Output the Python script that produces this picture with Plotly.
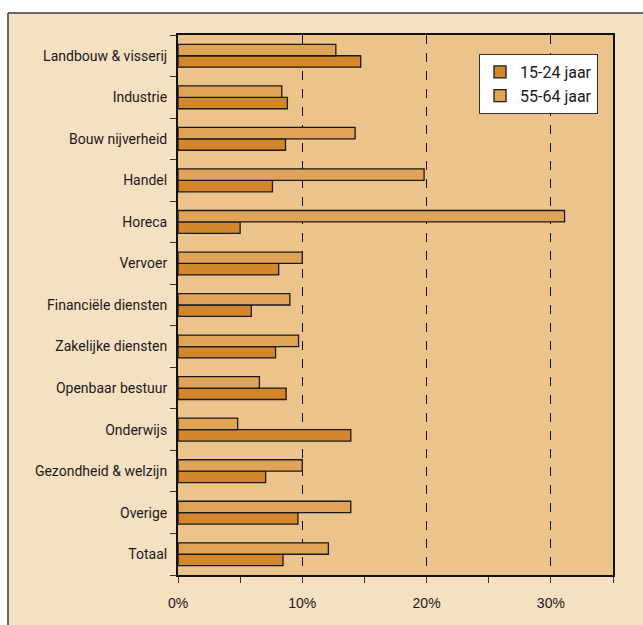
import plotly.graph_objects as go

categories = ["Landbouw & visserij", "Industrie", "Bouw nijverheid", "Handel", "Horeca",
              "Vervoer", "Financiële diensten", "Zakelijke diensten", "Openbaar bestuur",
              "Onderwijs", "Gezondheid & welzijn", "Overige", "Totaal"]
young = [14.7, 8.8, 8.65, 7.6, 5.0, 8.1, 5.9, 7.85, 8.7, 13.9, 7.05, 9.65, 8.45]
old = [12.7, 8.35, 14.25, 19.8, 31.1, 10.0, 9.0, 9.7, 6.55, 4.8, 10.0, 13.9, 12.1]
x_ticks = [0, 10, 20, 30]
x_labels = ["0%", "10%", "20%", "30%"]

# plot bottom-to-top so first category appears on top
cats_r = categories[::-1]
young_r = young[::-1]
old_r = old[::-1]

LABEL_FONT = "Roboto, Liberation Sans, Arial, sans-serif"

fig = go.Figure()
fig.add_trace(go.Bar(y=cats_r, x=young_r, orientation="h", name="15-24 jaar",
                     marker=dict(color="#D4862A", line=dict(color="#1a1a1a", width=1.3))))
fig.add_trace(go.Bar(y=cats_r, x=old_r, orientation="h", name="55-64 jaar",
                     marker=dict(color="#E0A458", line=dict(color="#1a1a1a", width=1.3))))

xl = -0.3908   # left edge of framed panel (paper coords)
yt = 1.0407    # top edge of framed panel
fig.update_layout(
    width=643, height=625,
    margin=dict(l=178, r=30, t=35, b=50),
    paper_bgcolor="#F6E0C2",
    plot_bgcolor="#EBC38B",
    barmode="group", bargap=0.45, bargroupgap=0,
    showlegend=True,
    legend=dict(x=0.692, y=0.965, xanchor="left", yanchor="top",
                bgcolor="white", bordercolor="#333333", borderwidth=1,
                font=dict(family=LABEL_FONT, size=16, color="#1a1a1a"),
                traceorder="normal", itemwidth=30, tracegroupgap=0),
    font=dict(family=LABEL_FONT, color="#1a1a1a"),
    shapes=[
        dict(type="rect", xref="paper", yref="paper", x0=-1, x1=1.5, y0=yt, y1=1.5,
             fillcolor="white", line=dict(width=0), layer="below"),
        dict(type="rect", xref="paper", yref="paper", x0=-1, x1=xl, y0=-1, y1=1.5,
             fillcolor="white", line=dict(width=0), layer="below"),
        dict(type="line", xref="paper", yref="paper", x0=xl, x1=1.5, y0=yt, y1=yt,
             line=dict(color="#3a3a3a", width=1.5)),
        dict(type="line", xref="paper", yref="paper", x0=xl, x1=xl, y0=-1, y1=yt,
             line=dict(color="#3a3a3a", width=1.5)),
    ],
)

fig.update_xaxes(range=[0, 35], tickvals=x_ticks, ticktext=x_labels,
                 ticks="outside", ticklen=6, tickcolor="#333333", ticklabelstandoff=8,
                 minor=dict(dtick=5, tick0=0, ticks="outside", ticklen=6, tickcolor="#333333", showgrid=False),
                 showgrid=True, gridcolor="#111111", griddash="dash", gridwidth=1.3,
                 showline=True, linecolor="#111111", linewidth=1.5, mirror=True,
                 tickfont=dict(family="Liberation Sans, Arial, sans-serif", size=14, color="#1a1a1a"),
                 zeroline=False, fixedrange=True)
fig.update_yaxes(type="category", tickson="boundaries", ticks="outside", ticklen=6,
                 tickcolor="#333333", showline=True, linecolor="#111111", linewidth=2, mirror=True,
                 showgrid=False, ticklabelstandoff=6,
                 tickfont=dict(family=LABEL_FONT, size=14, color="#1a1a1a"),
                 fixedrange=True)

fig.write_html("out.html")
